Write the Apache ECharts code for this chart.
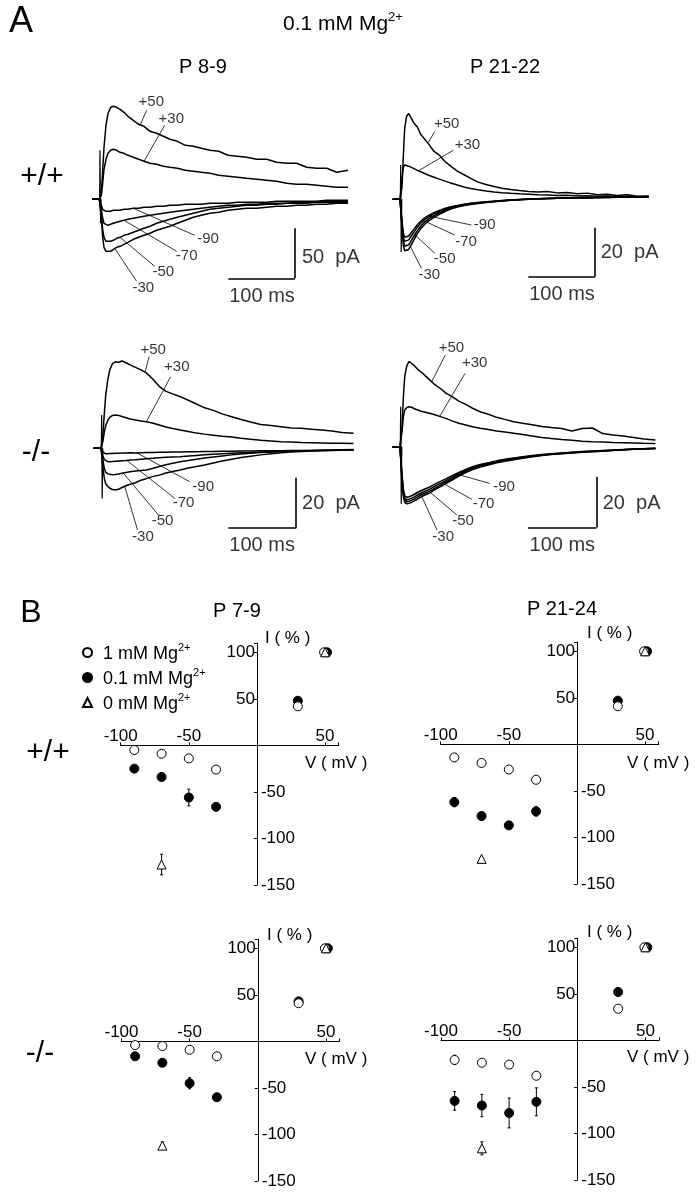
<!DOCTYPE html>
<html>
<head>
<meta charset="utf-8">
<script src="https://cdn.jsdelivr.net/npm/echarts@6/dist/echarts.min.js"></script>
<style>
html, body { margin: 0; padding: 0; background: #fff; }
#chart { width: 698px; height: 1199px; }
</style>
</head>
<body>
<div id="chart"></div>
<script>
const FONT = '"Liberation Sans", Arial, sans-serif'

// ---- panel A: whole-cell currents, time in ms after the step, current in pA
const T = [-12, -1, 0, 2, 4, 6, 9, 12, 16, 20, 25, 30, 36, 42, 50, 58, 66, 75, 85, 95,
  105, 116, 128, 140, 152, 165, 178, 192, 206, 220, 235, 250, 265, 280, 295, 310, 325, 340, 355, 372]
const STEPS = ['+50', '+30', '-30', '-50', '-70', '-90']

// +/+  P 8-9
const wt8p50 = [0, 0, 0, 6, 28, 52, 74, 86, 92, 93, 92, 90, 87, 83, 79, 75, 73, 68, 66, 63, 60, 58, 54, 53, 51, 49, 48, 44, 43, 42, 40, 40, 37, 36, 36, 32, 31, 31, 27, 29]
const wt8p30 = [0, 0, 0, 4, 16, 30, 40, 46, 49, 50, 49, 47, 46, 44, 42, 40, 38, 36, 35, 33, 32, 31, 29, 28, 27, 26, 24, 23, 22, 21, 20, 19, 18, 16, 15, 15, 14, 13, 12, 12]
const wt8m30 = [0, 0, 0, -18, -38, -48, -52, -53, -52, -50, -48, -47, -45, -43, -40, -38, -36, -34, -31, -29, -27, -24, -21, -18, -16, -14, -13, -11, -10, -9, -9, -8, -7, -7, -6, -6, -5, -5, -4, -4]
const wt8m50 = [0, 0, 0, -15, -30, -38, -42, -43, -42, -41, -39, -38, -36, -35, -33, -31, -29, -27, -24, -22, -20, -18, -16, -14, -12, -10, -9, -8, -7, -6, -6, -5, -5, -4, -4, -4, -3, -3, -3, -3]
const wt8m70 = [0, 0, 0, -10, -19, -24, -26, -26, -25, -24, -23, -22, -21, -20, -19, -18, -17, -16, -15, -14, -13, -12, -11, -10, -9, -8, -7, -6, -6, -5, -5, -4, -4, -4, -3, -3, -3, -2, -2, -2]
const wt8m90 = [0, 0, 0, -6, -10, -12, -12, -12, -12, -11, -11, -11, -10, -10, -9, -9, -8, -8, -7, -7, -6, -6, -5, -5, -5, -4, -4, -4, -3, -3, -3, -3, -2, -2, -2, -2, -2, -1, -1, -1]

// +/+  P 21-22
const wt21p50 = [0, 0, 0, 5, 18, 29, 34, 35, 33, 31, 29.5, 26.5, 24.5, 22.5, 19.5, 18, 15.5, 13.5, 11.5, 10, 8.5, 7, 6, 5.2, 4.5, 4, 3.6, 3.2, 3, 3.2, 2.6, 2.8, 2.2, 2.5, 1.8, 2, 1.5, 1.8, 1.2, 1.3]
const wt21p30 = [0, 0, 0, 9, 13, 14, 13.8, 13.5, 13, 12.5, 11.8, 11.2, 10.5, 9.8, 9, 8.2, 7.5, 6.6, 5.8, 5, 4.4, 3.9, 3.4, 3, 2.7, 2.4, 2.2, 2, 1.8, 1.7, 1.5, 1.6, 1.3, 1.4, 1.2, 1.3, 1.1, 1.2, 1, 1.1]
const wt21m30 = [0, 0, 0, -12, -19, -21, -21.8, -20.5, -18.5, -16.5, -14, -12, -10.2, -8.8, -7.4, -6.2, -5, -4, -3.2, -2.6, -2.1, -1.7, -1.3, -1, -0.7, -0.4, -0.2, 0, 0.2, 0.3, 0.4, 0.5, 0.6, 0.7, 0.7, 0.8, 0.8, 0.9, 0.9, 1]
const wt21m50 = [0, 0, 0, -11, -17, -19.2, -19.8, -18.6, -16.8, -15, -12.8, -11, -9.3, -8, -6.7, -5.6, -4.6, -3.7, -3, -2.4, -1.9, -1.5, -1.2, -0.9, -0.6, -0.4, -0.2, 0, 0.2, 0.3, 0.4, 0.5, 0.6, 0.6, 0.7, 0.8, 0.8, 0.9, 0.9, 1]
const wt21m70 = [0, 0, 0, -10, -15.5, -17.2, -17.7, -16.6, -15, -13.4, -11.4, -9.8, -8.3, -7.2, -6, -5, -4.1, -3.3, -2.7, -2.1, -1.7, -1.4, -1.1, -0.8, -0.6, -0.3, -0.1, 0.1, 0.2, 0.3, 0.4, 0.5, 0.6, 0.6, 0.7, 0.7, 0.8, 0.9, 0.9, 1]
const wt21m90 = [0, 0, 0, -9, -14, -15.5, -16, -15, -13.6, -12.2, -10.4, -9, -7.6, -6.6, -5.5, -4.6, -3.8, -3.1, -2.5, -2, -1.6, -1.3, -1, -0.8, -0.5, -0.3, -0.1, 0.1, 0.2, 0.3, 0.4, 0.5, 0.5, 0.6, 0.7, 0.7, 0.8, 0.8, 0.9, 1]

// -/-  P 8-9
const ko8p50 = [0, 0, 0, 6, 14, 21, 27, 31, 33.5, 34.2, 34, 34.5, 33.8, 33, 32, 31, 29.8, 27.5, 24.5, 22.5, 21.5, 20.4, 19, 17.5, 16, 15, 13.6, 12.5, 11.4, 10.4, 9.4, 9, 8.5, 8, 7.9, 7.5, 7.2, 6.8, 6.2, 5.9]
const ko8p30 = [0, 0, 0, 3, 6.5, 9, 11, 12.2, 13, 13.2, 13, 12.6, 12.1, 11.6, 11.2, 10.8, 10.5, 10, 9.2, 8.4, 7.8, 7.2, 6.6, 6, 5.6, 5.2, 4.8, 4.5, 4, 3.6, 3.2, 2.9, 2.6, 2.5, 2.3, 2.2, 2.1, 2, 2, 1.9]
const ko8m30 = [0, 0, 0, -8, -12, -14, -15, -15.8, -16.3, -16.5, -16.2, -15.5, -14.8, -14.2, -13.6, -12.6, -12, -11.2, -10.6, -9.8, -9.2, -8.6, -7.8, -7.2, -6.6, -5.8, -5, -4.3, -3.6, -3.1, -2.6, -2.2, -1.8, -1.5, -1.3, -1.1, -1, -0.9, -0.8, -0.7]
const ko8m50 = [0, 0, 0, -5, -8, -9.5, -10, -10.3, -10.5, -10.4, -10.2, -9.9, -9.6, -9.3, -9, -8.8, -8.6, -8, -7.2, -6.5, -5.9, -5.3, -4.8, -4.3, -3.8, -3.4, -3, -2.6, -2.3, -2, -1.7, -1.5, -1.3, -1.1, -1, -0.9, -0.8, -0.7, -0.6, -0.5]
const ko8m70 = [0, 0, 0, -3, -4.5, -5, -5.3, -5.3, -5.2, -5.1, -5, -4.9, -4.8, -4.6, -4.5, -4.3, -4.1, -3.9, -3.7, -3.5, -3.4, -3.3, -3, -2.8, -2.6, -2.4, -2.2, -2, -1.8, -1.7, -1.5, -1.4, -1.3, -1.2, -1.1, -1, -0.9, -0.8, -0.7, -0.7]
const ko8m90 = [0, 0, 0, -1.5, -2, -2.2, -2.2, -2.1, -2.1, -2, -2, -1.9, -1.9, -1.8, -1.9, -1.8, -1.7, -1.7, -1.6, -1.6, -1.5, -1.5, -1.4, -1.4, -1.3, -1.3, -1.2, -1.2, -1.1, -1.1, -1, -1, -1, -0.9, -0.9, -0.9, -0.8, -0.8, -0.8, -0.8]

// -/-  P 21-22
const ko21p50 = [0, 0, 0, 8, 20, 28, 32, 33.6, 33, 32, 30.5, 29.5, 28, 26.5, 24.5, 23, 21.2, 19.8, 18, 16.7, 15.2, 13.8, 12.8, 11.6, 10.8, 9.9, 9.3, 8.7, 8, 7.6, 7.2, 6.2, 7.2, 7.4, 5.2, 4.6, 4.2, 3.6, 3, 2.6]
const ko21p30 = [0, 0, 0, 6, 12, 14.5, 15.5, 15.8, 15.6, 15, 14.5, 14, 13.6, 13.2, 12.6, 11.9, 11.2, 10.2, 9.3, 8.6, 7.9, 7.3, 6.8, 6.2, 5.8, 5.3, 4.8, 4.2, 3.6, 3.2, 2.8, 2.5, 2.2, 2, 1.9, 1.7, 1.6, 1.5, 1.4, 1.3]
const ko21m30 = [0, 0, 0, -14, -20, -22, -22.6, -22.4, -22, -21.4, -20.6, -19.8, -19, -18.4, -17, -15.8, -14.6, -13.2, -11.6, -10.2, -9, -8, -7.2, -6.4, -5.8, -5.2, -4.6, -4, -3.5, -3.1, -2.8, -2.5, -2.2, -2, -1.8, -1.5, -1.2, -1, -0.8, -0.7]
const ko21m50 = [0, 0, 0, -13, -19, -21, -21.8, -21.6, -21.2, -20.6, -19.8, -19, -18.3, -17.7, -16.4, -15.2, -14, -12.7, -11.2, -9.8, -8.7, -7.7, -6.9, -6.2, -5.6, -5, -4.4, -3.9, -3.4, -3, -2.7, -2.4, -2.1, -1.9, -1.7, -1.4, -1.2, -1, -0.8, -0.7]
const ko21m70 = [0, 0, 0, -12, -18, -20.4, -21, -20.8, -20.4, -19.8, -19, -18.3, -17.5, -16.9, -15.6, -14.5, -13.4, -12.1, -10.7, -9.4, -8.3, -7.4, -6.6, -5.9, -5.3, -4.8, -4.2, -3.7, -3.3, -2.9, -2.6, -2.3, -2, -1.8, -1.6, -1.4, -1.2, -1, -0.8, -0.7]
const ko21m90 = [0, 0, 0, -11, -17, -19.4, -20, -19.8, -19.4, -18.8, -18, -17.3, -16.6, -16, -14.8, -13.7, -12.7, -11.5, -10.2, -9, -7.9, -7, -6.3, -5.6, -5, -4.5, -4, -3.5, -3.1, -2.8, -2.5, -2.2, -1.9, -1.7, -1.5, -1.3, -1.1, -0.9, -0.8, -0.6]

// capacitive artefact at the step
const artT = [-0.5, 0, 0, 0.8, 1.6]
const artWt8 = [0, 0, 49, -24, 0]
const artWt21 = [0, 0, 14, -21.5, 0]
const artKo8 = [0, 0, 13.2, -19.8, 0]
const artKo21 = [0, 0, 15.8, -22.6, 0]

// ---- panel B: I-V, current as % of the +50 mV response
const V = [-90, -70, -50, -30, 30, 50]
const V0 = [-70, 50]
const wtYoung1 = [-5, -9, -14, -26, 42, 100]
const wtYoung1Err = [1, 1, 1, 1, 1, 0]
const wtYoung01 = [-25, -34, -56, -66, 48, 100]
const wtYoung01Err = [2, 3, 9, 4, 2, 0]
const wtYoung0 = [-128, 100]
const wtYoung0Err = [11, 0]
const wtOld1 = [-14, -20, -27, -38, 41, 100]
const wtOld1Err = [1, 1, 1, 1, 1, 0]
const wtOld01 = [-62, -77, -87, -72, 47, 100]
const wtOld01Err = [5, 4, 3, 5, 2, 0]
const wtOld0 = [-123, 100]
const wtOld0Err = [0, 0]
const koYoung1 = [-4, -5, -9, -16, 41, 100]
const koYoung1Err = [1, 1, 1, 1, 1, 0]
const koYoung01 = [-16, -23, -45, -60, 43, 100]
const koYoung01Err = [2, 2, 6, 3, 2, 0]
const koYoung0 = [-112, 100]
const koYoung0Err = [4, 0]
const koOld1 = [-21, -24, -26, -38, 34, 100]
const koOld1Err = [5, 1, 1, 1, 4, 0]
const koOld01 = [-65, -70, -78, -66, 52, 100]
const koOld01Err = [10, 12, 16, 15, 4, 0]
const koOld0 = [-116, 100]
const koOld0Err = [7, 0]

const N1 = '1 mM Mg2+'
const N01 = '0.1 mM Mg2+'
const N0 = '0 mM Mg2+'

// trace panels: grid, ranges, leader lines [from, to, label-at], scale bar
const tracePanels = [
  {
    grid: { left: 90, top: 89.3, width: 270, height: 210 }, y: [-100, 110],
    traces: [wt8p50, wt8p30, wt8m30, wt8m50, wt8m70, wt8m90], art: artWt8,
    leaders: [[[60, 74], [70, 89], [77, 97]], [[66, 38], [97, 74], [107, 80]],
      [[22, -49], [55, -82], [65, -89]], [[30, -38], [82, -67], [95, -73]],
      [[36, -21], [115, -52], [130, -57]], [[50, -9], [142, -36], [162, -40]]],
    bar: { t: 292.5, y0: -79, h: 50, amp: '50  pA', ampAt: [303, -57.7], msAt: [243, -96.7] }
  },
  {
    grid: { left: 390.7, top: 89, width: 270, height: 210.7 }, y: [-41, 45],
    traces: [wt21p50, wt21p30, wt21m30, wt21m50, wt21m70, wt21m90], art: artWt21,
    leaders: [[[41, 23], [51, 27.6], [69, 30.7]], [[26, 11.5], [79, 20], [100, 22]],
      [[14, -19], [31, -28.2], [43, -30.9]], [[21, -14.5], [51, -22], [66, -24.4]],
      [[34, -8.7], [81, -14.6], [98, -17.3]], [[44, -7], [106, -10.5], [126, -10.5]]],
    bar: { t: 291.5, y0: -31.6, h: 20, amp: '20  pA', ampAt: [300, -21.9], msAt: [242, -39] }
  },
  {
    grid: { left: 91.5, top: 334.45, width: 274.2, height: 220.1 }, y: [-42, 45],
    traces: [ko8p50, ko8p30, ko8m30, ko8m50, ko8m70, ko8m90], art: artKo8,
    leaders: [[[64, 30], [70, 36.2], [76, 38.9]], [[66, 10.5], [102, 28.3], [111, 32.3]],
      [[34, -15], [53, -32.3], [61, -35.2]], [[32, -9.8], [84, -26.4], [90, -28.7]],
      [[37, -4.8], [108, -19.8], [121, -21.7]], [[52, -1.8], [130, -13.2], [150, -15.2]]],
    bar: { t: 287, y0: -31.6, h: 20, amp: '20  pA', ampAt: [296, -22], msAt: [237, -38.6] }
  },
  {
    grid: { left: 390.4, top: 332.85, width: 277.4, height: 220.1 }, y: [-42, 45],
    traces: [ko21p50, ko21p30, ko21m30, ko21m50, ko21m70, ko21m90], art: artKo21,
    leaders: [[[45, 25.5], [65, 36.2], [74, 38.9]], [[57, 12], [94, 29], [108, 33]],
      [[31, -19.8], [53, -32.9], [62, -35.8]], [[43, -18], [82, -27], [91, -29.2]],
      [[62, -14.5], [104, -20.8], [121, -22.4]], [[84, -11], [130, -14.5], [151, -16]]],
    bar: { t: 286, y0: -31.9, h: 20, amp: '20  pA', ampAt: [295, -22.6], msAt: [236, -39] }
  }
]

const IV_X = [-100, 60]
const IV_Y = [-150, 110]
const ivPanels = [
  { grid: { left: 120.7, top: 643, width: 218, height: 242 },
    s1: wtYoung1, e1: wtYoung1Err, s01: wtYoung01, e01: wtYoung01Err, s0: wtYoung0, e0: wtYoung0Err },
  { grid: { left: 440.7, top: 642, width: 218, height: 242 },
    s1: wtOld1, e1: wtOld1Err, s01: wtOld01, e01: wtOld01Err, s0: wtOld0, e0: wtOld0Err },
  { grid: { left: 121.5, top: 939, width: 218, height: 242 },
    s1: koYoung1, e1: koYoung1Err, s01: koYoung01, e01: koYoung01Err, s0: koYoung0, e0: koYoung0Err },
  { grid: { left: 441, top: 938, width: 218, height: 242 },
    s1: koOld1, e1: koOld1Err, s01: koOld01, e01: koOld01Err, s0: koOld0, e0: koOld0Err }
]

const grids = []
const xAxes = []
const yAxes = []
const series = []

tracePanels.forEach((p, i) => {
  grids.push(p.grid)
  xAxes.push({ gridIndex: i, type: 'value', min: -15, max: 390, show: false })
  yAxes.push({ gridIndex: i, type: 'value', min: p.y[0], max: p.y[1], show: false })
  p.traces.forEach((arr, k) => {
    series.push({
      type: 'line', name: STEPS[k], xAxisIndex: i, yAxisIndex: i,
      data: T.map((t, j) => [t, arr[j]]),
      symbol: 'none', lineStyle: { color: '#000', width: 1.5 }, silent: true
    })
  })
  series.push({
    type: 'line', xAxisIndex: i, yAxisIndex: i,
    data: artT.map((t, j) => [t, p.art[j]]),
    symbol: 'none', lineStyle: { color: '#000', width: 1.2 }, silent: true
  })
  const b = p.bar
  const labels = p.leaders.map((l, k) => ({ value: l[2], name: STEPS[k] }))
  labels.push({ value: b.ampAt, name: b.amp, label: { align: 'left', fontSize: 20 } })
  labels.push({ value: b.msAt, name: '100 ms', label: { fontSize: 20 } })
  series.push({
    type: 'scatter', xAxisIndex: i, yAxisIndex: i, symbolSize: 0, silent: true,
    data: labels,
    label: { show: true, position: 'inside', formatter: '{b}', color: '#000', fontSize: 15, fontFamily: FONT },
    markLine: {
      silent: true, symbol: ['none', 'none'], label: { show: false },
      lineStyle: { color: '#000', width: 0.8, type: 'solid' },
      data: p.leaders.map(l => [{ coord: l[0] }, { coord: l[1] }]).concat([
        [{ coord: [b.t, b.y0], lineStyle: { width: 1.6 } }, { coord: [b.t, b.y0 + b.h] }],
        [{ coord: [b.t - 100, b.y0], lineStyle: { width: 1.6 } }, { coord: [b.t, b.y0] }]
      ])
    }
  })
})

function renderErr(params, api) {
  const x = api.value(0)
  const lo = api.coord([x, api.value(1)])
  const hi = api.coord([x, api.value(2)])
  const st = { stroke: '#000', lineWidth: 1 }
  return {
    type: 'group', children: [
      { type: 'line', shape: { x1: lo[0], y1: lo[1], x2: hi[0], y2: hi[1] }, style: st },
      { type: 'line', shape: { x1: lo[0] - 1.5, y1: lo[1], x2: lo[0] + 1.5, y2: lo[1] }, style: st },
      { type: 'line', shape: { x1: hi[0] - 1.5, y1: hi[1], x2: hi[0] + 1.5, y2: hi[1] }, style: st }
    ]
  }
}

ivPanels.forEach((p, k) => {
  const gi = 4 + k
  const g = p.grid
  // shift the axes so they cross at the origin
  const zeroFromBottom = g.height * (0 - IV_Y[0]) / (IV_Y[1] - IV_Y[0])
  const zeroFromLeft = g.width * (0 - IV_X[0]) / (IV_X[1] - IV_X[0])
  grids.push(g)
  xAxes.push({
    gridIndex: gi, type: 'value', min: IV_X[0], max: IV_X[1], interval: 50,
    position: 'bottom', offset: -zeroFromBottom,
    axisLine: { onZero: false, lineStyle: { color: '#000', width: 1 } },
    axisTick: { show: true, inside: true, length: 3, lineStyle: { color: '#000' } },
    axisLabel: {
      inside: true, margin: 1, color: '#000', fontSize: 17, fontFamily: FONT,
      formatter: v => (v === 0 || v % 50 !== 0) ? '' : String(v)
    },
    splitLine: { show: false }
  })
  const yi = yAxes.length
  yAxes.push({
    gridIndex: gi, type: 'value', min: IV_Y[0], max: IV_Y[1], interval: 50,
    position: 'left', offset: -zeroFromLeft,
    axisLine: { onZero: false, lineStyle: { color: '#000', width: 1 } },
    axisTick: { show: true, length: 3, lineStyle: { color: '#000' } },
    axisLabel: {
      margin: 2, color: '#000', fontSize: 17, fontFamily: FONT,
      formatter: v => (v > 0 && v % 50 === 0) ? String(v) : ''
    },
    splitLine: { show: false }
  })
  yAxes.push({
    gridIndex: gi, type: 'value', min: IV_Y[0], max: IV_Y[1], interval: 50,
    position: 'right', offset: -(g.width - zeroFromLeft),
    axisLine: { show: false, onZero: false }, axisTick: { show: false },
    axisLabel: {
      margin: 4, color: '#000', fontSize: 17, fontFamily: FONT,
      formatter: v => (v < 0) ? String(v) : ''
    },
    splitLine: { show: false }
  })
  const errData = []
  V.forEach((v, j) => {
    if (p.e1[j]) errData.push([v, p.s1[j] - p.e1[j], p.s1[j] + p.e1[j]])
    if (p.e01[j]) errData.push([v, p.s01[j] - p.e01[j], p.s01[j] + p.e01[j]])
  })
  V0.forEach((v, j) => {
    if (p.e0[j]) errData.push([v, p.s0[j] - p.e0[j], p.s0[j] + p.e0[j]])
  })
  series.push({
    type: 'custom', xAxisIndex: gi, yAxisIndex: yi, renderItem: renderErr,
    encode: { x: 0, y: [1, 2] }, data: errData, silent: true, z: 1
  })
  series.push({
    type: 'scatter', name: N01, xAxisIndex: gi, yAxisIndex: yi, symbol: 'circle', symbolSize: 9,
    itemStyle: { color: '#000', borderColor: '#000', borderWidth: 1, opacity: 1 },
    data: V.map((v, j) => j === 5 ? { value: [v, p.s01[j]], symbolOffset: [2, 0] } : [v, p.s01[j]]),
    silent: true, z: 2
  })
  series.push({
    type: 'scatter', name: N1, xAxisIndex: gi, yAxisIndex: yi, symbol: 'circle', symbolSize: 9,
    itemStyle: { color: '#fff', borderColor: '#000', borderWidth: 1, opacity: 1 },
    data: V.map((v, j) => j === 5 ? { value: [v, p.s1[j]], symbolOffset: [-1, 0] } : [v, p.s1[j]]),
    silent: true, z: 3
  })
  series.push({
    type: 'scatter', name: N0, xAxisIndex: gi, yAxisIndex: yi, symbol: 'triangle', symbolSize: 9,
    itemStyle: { color: '#fff', borderColor: '#000', borderWidth: 1, opacity: 1 },
    data: V0.map((v, j) => [v, p.s0[j]]),
    silent: true, z: 4
  })
})

const supRich = size => ({
  a: { fontSize: size, fontFamily: FONT, color: '#000', verticalAlign: 'bottom', lineHeight: size + 3 },
  s: { fontSize: Math.round(size * 0.62), fontFamily: FONT, color: '#000', verticalAlign: 'top', lineHeight: Math.round(size * 0.62) }
})

function txt(x, y, text, size, align, rich) {
  return {
    type: 'text', x: x, y: y, silent: true,
    style: {
      text: text, fontSize: size, fontFamily: FONT, fill: '#000',
      align: align || 'center', verticalAlign: 'middle', rich: rich
    }
  }
}

const graphics = [
  txt(21, 22, 'A', 36),
  txt(343, 23, '{a|0.1 mM Mg}{s|2+}', 21, 'center', supRich(21)),
  txt(203, 67, 'P 8-9', 20),
  txt(505, 67, 'P 21-22', 20),
  txt(42, 177, '+/+', 30),
  txt(36, 453, '-/-', 30),
  txt(31, 613, 'B', 32),
  txt(237, 611, 'P 7-9', 20),
  txt(562, 609, 'P 21-24', 20),
  txt(48, 753, '+/+', 30),
  txt(40, 1054, '-/-', 30),
  txt(265, 638, 'I ( % )', 17, 'left'),
  txt(587, 633, 'I ( % )', 17, 'left'),
  txt(267, 935, 'I ( % )', 17, 'left'),
  txt(587, 932, 'I ( % )', 17, 'left'),
  txt(305, 763, 'V ( mV )', 17, 'left'),
  txt(627, 763, 'V ( mV )', 17, 'left'),
  txt(305, 1059, 'V ( mV )', 17, 'left'),
  txt(627, 1057, 'V ( mV )', 17, 'left')
]

const legendRich = supRich(18)
legendRich.a.padding = [0, 0, 0, 6]

const chart = echarts.init(document.getElementById('chart'), null, { renderer: 'canvas' })
chart.setOption({
  animation: false,
  backgroundColor: '#fff',
  grid: grids,
  xAxis: xAxes,
  yAxis: yAxes,
  legend: {
    left: 77, top: 637, orient: 'vertical', itemWidth: 9, itemHeight: 9, itemGap: 4,
    selectedMode: false,
    data: [{ name: N1, icon: 'circle' }, { name: N01, icon: 'circle' }, { name: N0, icon: 'triangle' }],
    formatter: name => '{a|' + name.replace('2+', '') + '}{s|2+}',
    textStyle: { rich: legendRich }
  },
  graphic: graphics,
  series: series
})
</script>
</body>
</html>
